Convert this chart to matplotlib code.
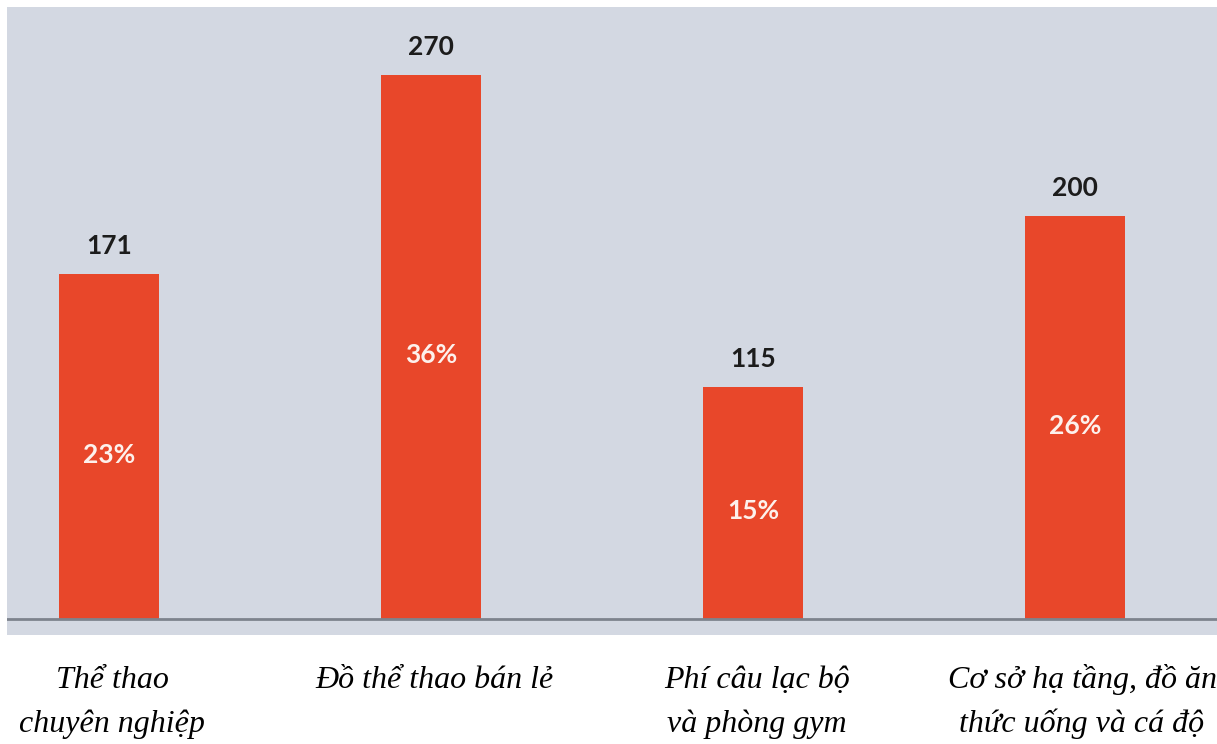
import matplotlib
matplotlib.use("Agg")
import matplotlib.pyplot as plt

# Données du graphique
categories = ["Thể thao\nchuyên nghiệp", "Đồ thể thao bán lẻ",
              "Phí câu lạc bộ\nvà phòng gym", "Cơ sở hạ tầng, đồ ăn\nthức uống và cá độ"]
valeurs = [171, 270, 115, 200]
pourcentages = ["23%", "36%", "15%", "26%"]

couleur_barre = "#e8472a"
couleur_fond = "#d3d8e2"

fig = plt.figure(figsize=(12.17, 7.44), dpi=100)
fig.patch.set_facecolor("white")

# Zone grise du graphique (pixels 7..1217 en x, 7..635 en y)
ax = fig.add_axes([7 / 1217, 1 - 635 / 744, 1210 / 1217, 628 / 744])
ax.set_facecolor(couleur_fond)

x = range(len(valeurs))
ax.bar(x, valeurs, width=0.31, color=couleur_barre, zorder=2)

# Ligne de base
ax.axhline(0, color="#7d838d", lw=2, zorder=3)

for i, (v, p) in enumerate(zip(valeurs, pourcentages)):
    ax.text(i, v + 8, str(v), ha="center", va="bottom", fontsize=19,
            fontweight="bold", family=["Lato", "DejaVu Sans"], color="#1c1c1c")
    ax.text(i, v / 2 - 4, p, ha="center", va="center", fontsize=19,
            fontweight="bold", family=["Lato", "DejaVu Sans"], color="#fdf1ec")

ax.set_xlim(-0.318, 3.44)
ax.set_ylim(-7.9, 303.7)
ax.set_xticks([])
ax.set_yticks([])
for s in ax.spines.values():
    s.set_visible(False)

# Étiquettes des catégories sous le graphique (lignes de base ~688 et ~732 px)
positions_px = [112, 434, 757, 1082]
for cx, cat in zip(positions_px, categories):
    fig.text(cx / 1217, 1 - 688 / 744, cat.split("\n")[0], ha="center", va="baseline",
             fontsize=23, style="italic", family="Liberation Serif", color="black")
    if "\n" in cat:
        fig.text(cx / 1217, 1 - 732 / 744, cat.split("\n")[1], ha="center", va="baseline",
                 fontsize=23, style="italic", family="Liberation Serif", color="black")

fig.savefig("out.png", dpi=100)
